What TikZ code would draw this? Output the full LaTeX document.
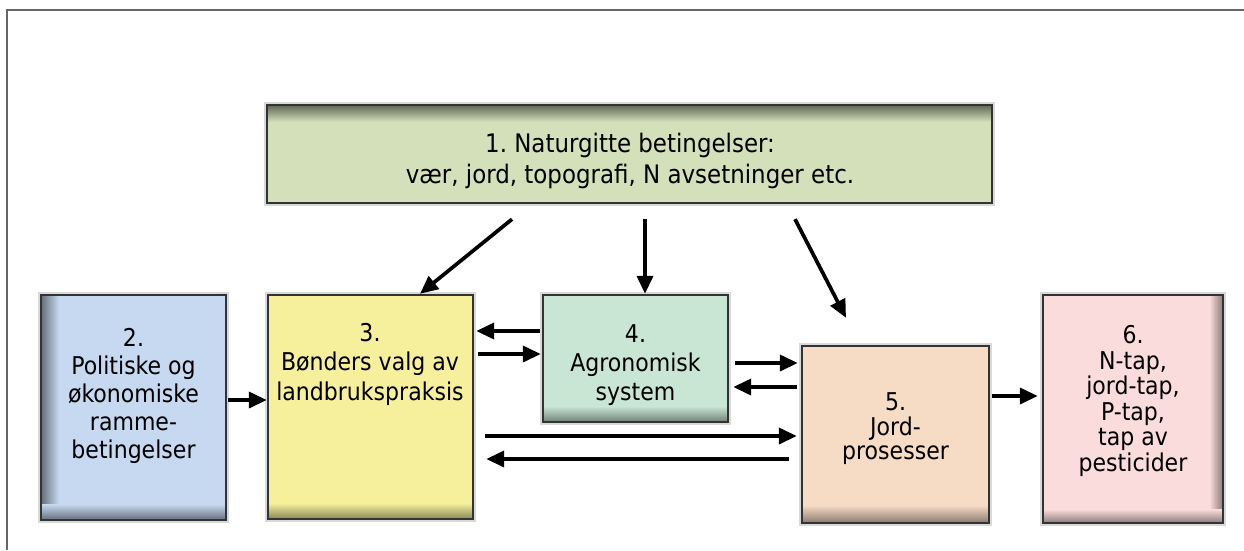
\documentclass[tikz,border=0pt]{standalone}
\usepackage{fontspec}
\setmainfont{DejaVu Sans Condensed}
\usetikzlibrary{calc,arrows.meta}
\definecolor{cA}{HTML}{D4E0B9}
\definecolor{cB}{HTML}{C6D9F0}
\definecolor{cC}{HTML}{F6F09C}
\definecolor{cD}{HTML}{C9E6D4}
\definecolor{cE}{HTML}{F7DCC5}
\definecolor{cF}{HTML}{FADCDC}
\tikzset{
  boxnode/.style={rectangle, inner sep=0pt, draw=none},
  border/.style={draw=black!80, line width=1.6pt},
  txt/.style={align=center, inner sep=0pt},
  arr/.style={line width=3.7pt, -{Triangle[length=18pt,width=16pt]}},
  frame/.style={draw=black!60, line width=1.8pt}
}
\begin{document}
\frenchspacing
\begin{tikzpicture}[x=1pt,y=-1pt]
\useasboundingbox (0,0) rectangle (1244,550);
\draw[frame] (7,550) -- (7,10) -- (1250,10);

% boxes
\node[boxnode, fill=cA, minimum width=725pt, minimum height=98pt] (b1) at (629.5,154) {};
\node[boxnode, fill=cB, minimum width=185pt, minimum height=225pt] (b2) at (133.5,407.5) {};
\node[boxnode, fill=cC, minimum width=205pt, minimum height=224pt] (b3) at (370.5,407) {};
\node[boxnode, fill=cD, minimum width=185pt, minimum height=127pt] (b4) at (635.5,358.5) {};
\node[boxnode, fill=cE, minimum width=187pt, minimum height=177pt] (b5) at (895.5,434.5) {};
\node[boxnode, fill=cF, minimum width=180pt, minimum height=228pt] (b6) at (1133,409) {};

% edge shading
\shade[top color=cA!45!black, bottom color=cA] (b1.north west) rectangle ($(b1.north east)+(0,17)$);
\shade[left color=cB!50!black, right color=cB] (b2.north west) rectangle ($(b2.south west)+(18,0)$);
\shade[top color=cB, bottom color=cB!50!black] ($(b2.south west)+(0,-16)$) rectangle (b2.south east);
\shade[top color=cC, bottom color=cC!55!black] ($(b3.south west)+(0,-16)$) rectangle (b3.south east);
\shade[top color=cD, bottom color=cD!55!black] ($(b4.south west)+(0,-16)$) rectangle (b4.south east);
\shade[top color=cE, bottom color=cE!55!black] ($(b5.south west)+(0,-18)$) rectangle (b5.south east);
\shade[left color=cF, right color=cF!55!black] ($(b6.north east)+(-14,0)$) rectangle (b6.south east);
\shade[top color=cF, bottom color=cF!55!black] ($(b6.south west)+(0,-14)$) rectangle (b6.south east);

\foreach \b in {b1,b2,b3,b4,b5,b6}{
  \draw[black!15, line width=3pt] ($(\b.north west)+(-1.5,-1.5)$) rectangle ($(\b.south east)+(1.5,1.5)$);
  \draw[border] (\b.north west) rectangle (\b.south east);
}

% texts
\node[txt, font=\fontsize{25.5}{31}\selectfont] (t1) at (630,161) {1. Naturgitte betingelser:\\vær, jord, topografi, N avsetninger etc.};
\node[txt, font=\fontsize{24.5}{28}\selectfont] (t2) at (133.5,396) {2.\\Politiske og\\økonomiske\\ramme-\\betingelser};
\node[txt, font=\fontsize{24.5}{29.5}\selectfont] (t3) at (370,364) {3.\\Bønders valg av\\landbrukspraksis};
\node[txt, font=\fontsize{24.5}{29}\selectfont] (t4) at (635.5,365) {4.\\Agronomisk\\system};
\node[txt, font=\fontsize{24.5}{24.5}\selectfont] (t5) at (895.5,429) {5.\\Jord-\\prosesser};
\node[txt, font=\fontsize{24.5}{25.5}\selectfont] (t6) at (1133,401) {6.\\N-tap,\\jord-tap,\\P-tap,\\tap av\\pesticider};

% arrows
\draw[arr] ($(b1.south)+(-117.5,16)$) -- ($(b3.north)+(49.5,-1)$);
\draw[arr] ($(b1.south)+(15.5,16)$) -- ($(b4.north)+(9.5,-1)$);
\draw[arr] ($(b1.south)+(165.5,16)$) -- ($(b5.north)+(-49.5,-28)$);
\draw[arr] ($(b2.east)+(2,-7.5)$) -- ($(b3.west)+(-1,-7)$);
\draw[arr] ($(b4.west)+(-3,-27.5)$) -- ($(b3.east)+(3,-76)$);
\draw[arr] ($(b3.east)+(5,-53)$) -- ($(b4.west)+(-2,-4.5)$);
\draw[arr] ($(b4.east)+(7,4.5)$) -- ($(b5.west)+(-4,-71.5)$);
\draw[arr] ($(b5.west)+(-5,-47.5)$) -- ($(b4.east)+(5,28.5)$);
\draw[arr] ($(b3.east)+(12,29)$) -- ($(b5.west)+(-5,1.5)$);
\draw[arr] ($(b5.west)+(-13,24.5)$) -- ($(b3.east)+(13,52)$);
\draw[arr] ($(b5.east)+(3,-38.5)$) -- ($(b6.west)+(-5,-13)$);
\end{tikzpicture}
\end{document}
